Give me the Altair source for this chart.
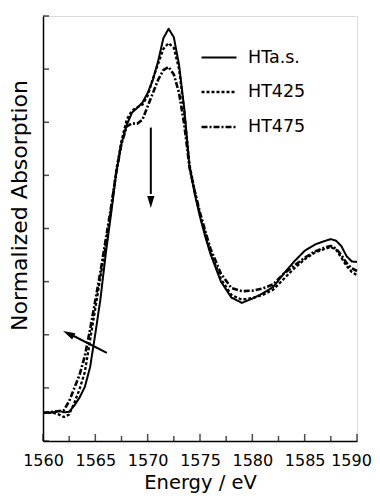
import altair as alt
import pandas as pd

energy = [1560, 1561, 1561.5, 1562, 1562.5, 1563, 1563.5, 1564, 1564.5, 1565, 1565.5,
          1566, 1566.5, 1567, 1567.5, 1568, 1568.5, 1569, 1569.5, 1570, 1570.5, 1571,
          1571.5, 1572, 1572.5, 1573, 1573.5, 1574, 1574.5, 1575, 1575.5, 1576, 1577,
          1578, 1579, 1580, 1581, 1582, 1583, 1584, 1585, 1586, 1587, 1587.5, 1588,
          1588.5, 1589, 1589.5, 1590]

ht_as = [0.53, 0.54, 0.57, 0.54, 0.55, 0.67, 0.82, 1.02, 1.39, 2.02, 2.69,
         3.53, 4.27, 5.05, 5.6, 5.95, 6.18, 6.27, 6.37, 6.55, 6.8, 7.15,
         7.58, 7.76, 7.6, 7.08, 6.25, 5.15, 4.65, 4.22, 3.85, 3.52, 3.0,
         2.7, 2.6, 2.68, 2.78, 2.9, 3.15, 3.38, 3.58, 3.7, 3.77, 3.8, 3.77,
         3.67, 3.48, 3.38, 3.37]

ht425 = [0.53, 0.53, 0.5, 0.45, 0.5, 0.72, 0.98, 1.3, 1.9, 2.5, 3.1,
         3.7, 4.35, 5.1, 5.65, 6.05, 6.22, 6.28, 6.33, 6.5, 6.82, 7.1,
         7.38, 7.49, 7.4, 7.0, 6.2, 5.2, 4.7, 4.25, 3.9, 3.56, 3.05,
         2.75, 2.66, 2.69, 2.75, 2.85, 3.05, 3.25, 3.42, 3.55, 3.62, 3.65, 3.6,
         3.45, 3.3, 3.18, 3.12]

ht475 = [0.53, 0.55, 0.56, 0.58, 0.75, 1.0, 1.25, 1.6, 2.1, 2.65, 3.2,
         3.8, 4.4, 5.05, 5.6, 5.92, 5.98, 5.97, 6.05, 6.3, 6.55, 6.8,
         6.98, 7.04, 6.9, 6.55, 5.95, 5.15, 4.7, 4.3, 3.95, 3.62, 3.15,
         2.88, 2.82, 2.83, 2.87, 2.95, 3.15, 3.3, 3.45, 3.57, 3.65, 3.67, 3.62,
         3.5, 3.35, 3.25, 3.2]

series = ["HTa.s.", "HT425", "HT475"]
x_ticks_major = [1560, 1565, 1570, 1575, 1580, 1585, 1590]
x_ticks_minor = [1562.5, 1567.5, 1572.5, 1577.5, 1582.5, 1587.5]
y_ticks = [0, 1, 2, 3, 4, 5, 6, 7, 8]

# arrows: shafts (x, y, x2, y2) and heads (x, y, angle)
arrow_x = [1570.3, 1566.1]
arrow_y = [5.9, 1.66]
arrow_x2 = [1570.3, 1562.7]
arrow_y2 = [4.65, 2.0]
head_x = [1570.3, 1562.43]
head_y = [4.5, 2.02]
head_angle = [180, 296.6]

W, H = 314, 425
FONT = "DejaVu Sans"

rows = []
for name, vals in zip(series, [ht_as, ht425, ht475]):
    for e, v in zip(energy, vals):
        rows.append({"E": e, "A": v, "s": name})
df = pd.DataFrame(rows)

xs = alt.Scale(domain=[1560, 1590], nice=False, zero=False)
ys = alt.Scale(domain=[0, 8], nice=False, zero=False)


def leg():
    return alt.Legend(title=None, orient="none", legendX=157, legendY=23,
                      symbolType="stroke", symbolSize=1225,
                      labelFontSize=17.5, labelFont=FONT, labelOffset=10, padding=0,
                      rowPadding=7, labelColor="black")


lines = alt.Chart(df).mark_line(strokeCap="butt", strokeJoin="round").encode(
    x=alt.X("E:Q", scale=xs,
            axis=alt.Axis(title="Energy / eV", values=x_ticks_major, format="d",
                          tickSize=0, labelPadding=11, titlePadding=5,
                          labelFontSize=16, titleFontSize=19.5, grid=False,
                          labelFont=FONT, titleFont=FONT,
                          labelOffset={"condition": {"test": "datum.value == 1590", "value": -6},
                                       "value": 0},
                          domainColor="black", domainWidth=1.5,
                          labelColor="black", titleColor="black",
                          titleFontWeight="normal", labelFlush=False)),
    y=alt.Y("A:Q", scale=ys,
            axis=alt.Axis(title="Normalized Absorption", labels=False, ticks=False,
                          grid=False, domainColor="black", domainWidth=1.5,
                          titleFontSize=22, titleFont=FONT, titleColor="black",
                          titleFontWeight="normal",
                          titleX=-24, titleY=189, titleAlign="center",
                          titleBaseline="middle", titleAngle=270)),
    color=alt.Color("s:N", scale=alt.Scale(domain=series, range=["black", "black", "black"]),
                    legend=leg()),
    strokeDash=alt.StrokeDash("s:N", scale=alt.Scale(domain=series,
                                                     range=[[1, 0], [3, 2], [6, 2, 2, 2]]),
                              legend=leg()),
    strokeWidth=alt.StrokeWidth("s:N", scale=alt.Scale(domain=series, range=[2, 2.6, 1.3]),
                                legend=leg()),
    order=alt.Order("E:Q"),
)

xt_major = alt.Chart(pd.DataFrame({"E": x_ticks_major})).mark_tick(
    color="black", thickness=1.5, size=7, orient="vertical").encode(
    x=alt.X("E:Q", scale=xs), y=alt.value(H - 3.5))
xt_minor = alt.Chart(pd.DataFrame({"E": x_ticks_minor})).mark_tick(
    color="black", thickness=1.5, size=5, orient="vertical").encode(
    x=alt.X("E:Q", scale=xs), y=alt.value(H - 2.5))
yt = alt.Chart(pd.DataFrame({"A": y_ticks})).mark_tick(
    color="black", thickness=1.5, size=6, orient="horizontal").encode(
    y=alt.Y("A:Q", scale=ys), x=alt.value(3))

arr_df = pd.DataFrame({"x": arrow_x, "y": arrow_y, "x2": arrow_x2, "y2": arrow_y2})
shafts = alt.Chart(arr_df).mark_rule(color="black", strokeWidth=2).encode(
    x=alt.X("x:Q", scale=xs), y=alt.Y("y:Q", scale=ys), x2="x2:Q", y2="y2:Q")
head_df = pd.DataFrame({"x": head_x, "y": head_y, "ang": head_angle})
heads = alt.Chart(head_df).mark_point(
    shape="M0,-1L0.6,1L-0.6,1Z", filled=True, color="black", size=144, opacity=1).encode(
    x=alt.X("x:Q", scale=xs), y=alt.Y("y:Q", scale=ys),
    angle=alt.Angle("ang:Q", scale=None))

chart = alt.layer(lines, xt_major, xt_minor, yt, shafts, heads).properties(
    width=W, height=H,
    autosize=alt.AutoSizeParams(type="none"),
    padding={"left": 35, "top": 8, "right": 15, "bottom": 53},
    background="white",
).configure_view(stroke=None).configure(font=FONT)

chart.save("out.html", embed_options={"renderer": "svg", "actions": False})
